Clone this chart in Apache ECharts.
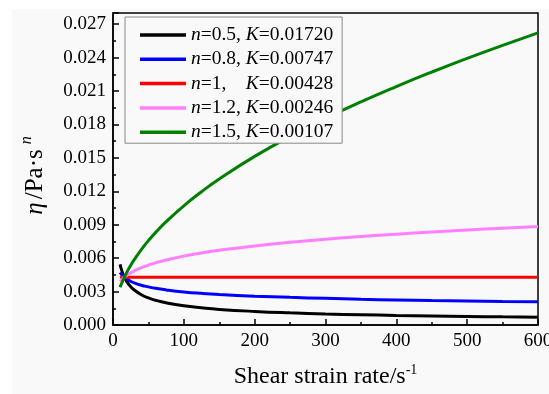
<!DOCTYPE html>
<html>
<head>
<meta charset="utf-8">
<script src="https://cdn.jsdelivr.net/npm/echarts@6/dist/echarts.min.js"></script>
<style>
  html, body { margin: 0; padding: 0; background: #fff; }
  #chart { width: 549px; height: 394px; }
</style>
</head>
<body>
<div id="chart"></div>
<script>
// shear rates (s^-1)
const rates = [10, 12, 15, 20, 25, 30, 40, 50, 60, 75, 100, 125, 150, 200, 250, 300, 350, 400, 450, 500, 550, 600];

const etaN05 = [0.00544, 0.00497, 0.00444, 0.00385, 0.00344, 0.00314, 0.00272, 0.00243, 0.00222, 0.00199, 0.00172, 0.00154, 0.00140, 0.00122, 0.00109, 0.00099, 0.00092, 0.00086, 0.00081, 0.00077, 0.00073, 0.00070];
const etaN08 = [0.00471, 0.00454, 0.00435, 0.00410, 0.00392, 0.00378, 0.00357, 0.00342, 0.00329, 0.00315, 0.00297, 0.00284, 0.00274, 0.00259, 0.00248, 0.00239, 0.00231, 0.00225, 0.00220, 0.00216, 0.00211, 0.00208];
const etaN10 = [0.00428, 0.00428, 0.00428, 0.00428, 0.00428, 0.00428, 0.00428, 0.00428, 0.00428, 0.00428, 0.00428, 0.00428, 0.00428, 0.00428, 0.00428, 0.00428, 0.00428, 0.00428, 0.00428, 0.00428, 0.00428, 0.00428];
const etaN12 = [0.00390, 0.00404, 0.00423, 0.00448, 0.00468, 0.00486, 0.00514, 0.00538, 0.00558, 0.00583, 0.00618, 0.00646, 0.00670, 0.00710, 0.00742, 0.00770, 0.00794, 0.00815, 0.00835, 0.00853, 0.00869, 0.00884];
const etaN15 = [0.00338, 0.00371, 0.00414, 0.00479, 0.00535, 0.00586, 0.00677, 0.00757, 0.00829, 0.00927, 0.01070, 0.01196, 0.01310, 0.01513, 0.01692, 0.01853, 0.02002, 0.02140, 0.02270, 0.02393, 0.02509, 0.02621];

const nLabels = ['=0.5,', '=0.8,', '=1,', '=1.2,', '=1.5,'];
const kLabels = ['=0.01720', '=0.00747', '=0.00428', '=0.00246', '=0.00107'];
const seriesNames = ['n05', 'n08', 'n10', 'n12', 'n15'];
const seriesColors = ['#000000', '#0000ff', '#ff0000', '#ff80ff', '#008000'];
const seriesValues = [etaN05, etaN08, etaN10, etaN12, etaN15];

const serif = "'Liberation Serif', 'Times New Roman', serif";

const myChart = echarts.init(document.getElementById('chart'));

myChart.setOption({
  backgroundColor: '#ffffff',
  animation: false,
  graphic: [{
    type: 'rect',
    z: -10,
    shape: {x: 12, y: 9, width: 537, height: 385},
    style: {fill: '#f9f9f9'}
  }],
  grid: {
    left: 113, right: 11, top: 13, bottom: 69,
    outerBoundsMode: 'none',
    show: true,
    borderColor: '#000',
    borderWidth: 1.5,
    backgroundColor: 'transparent'
  },
  legend: {
    left: 125, top: 17,
    orient: 'vertical',
    data: seriesNames,
    icon: 'rect',
    itemWidth: 46,
    itemHeight: 3.5,
    itemGap: 4.3,
    padding: [8, 9, 1, 15],
    borderColor: '#888',
    borderWidth: 1,
    borderRadius: 0,
    backgroundColor: '#f9f9f9',
    formatter(name) {
      const i = seriesNames.indexOf(name);
      return '{i|n}{w|' + nLabels[i] + '}{i|K}{t|' + kLabels[i] + '}';
    },
    textStyle: {
      fontFamily: serif, fontSize: 19.5, color: '#000', lineHeight: 20,
      rich: {
        i: {fontFamily: serif, fontSize: 19.5, fontStyle: 'italic', color: '#000', lineHeight: 20},
        w: {fontFamily: serif, fontSize: 19.5, color: '#000', width: 45, lineHeight: 20},
        t: {fontFamily: serif, fontSize: 19.5, color: '#000', lineHeight: 20}
      }
    }
  },
  xAxis: {
    type: 'value',
    min: 0, max: 600, interval: 100,
    name: 'Shear strain rate/s{sup|-1}',
    nameLocation: 'middle',
    nameGap: 38,
    nameTextStyle: {
      fontFamily: serif, fontSize: 24, color: '#000',
      rich: {sup: {fontFamily: serif, fontSize: 14, color: '#000', padding: [0, 0, 14, 0]}}
    },
    axisLine: {show: true, lineStyle: {color: '#000', width: 1.5}},
    axisTick: {inside: true, length: 6, lineStyle: {width: 1.5}},
    minorTick: {show: true, splitNumber: 2, length: 3, lineStyle: {color: '#000', width: 1.5}},
    splitLine: {show: false},
    axisLabel: {fontFamily: serif, fontSize: 19, color: '#000', margin: 7}
  },
  yAxis: {
    type: 'value',
    min: 0, max: 0.028, interval: 0.003,
    name: '{i|η}/Pa·s{sup|n}',
    nameLocation: 'middle',
    nameGap: 61,
    nameTextStyle: {
      fontFamily: serif, fontSize: 25, color: '#000',
      padding: [0, 13, 0, 0],
      rich: {
        i: {fontFamily: serif, fontSize: 25, fontStyle: 'italic', color: '#000', padding: [0, 3, 0, 0]},
        p: {fontFamily: serif, fontSize: 25, color: '#000'},
        sup: {fontFamily: serif, fontSize: 16, fontStyle: 'italic', color: '#000', padding: [0, 0, 17, 5]}
      }
    },
    axisLine: {show: true, lineStyle: {color: '#000', width: 1.5}},
    axisTick: {inside: true, length: 6, lineStyle: {width: 1.5}},
    minorTick: {show: true, splitNumber: 2, length: 3, lineStyle: {color: '#000', width: 1.5}},
    splitLine: {show: false},
    axisLabel: {
      fontFamily: serif, fontSize: 19, color: '#000', margin: 7,
      showMaxLabel: false,
      formatter(v) { return v.toFixed(3); }
    }
  },
  series: seriesNames.map((name, i) => ({
    name,
    type: 'line',
    smooth: true,
    showSymbol: false,
    color: seriesColors[i],
    lineStyle: {width: 3, color: seriesColors[i]},
    data: rates.map((r, j) => [r, seriesValues[i][j]])
  }))
});
</script>
</body>
</html>
